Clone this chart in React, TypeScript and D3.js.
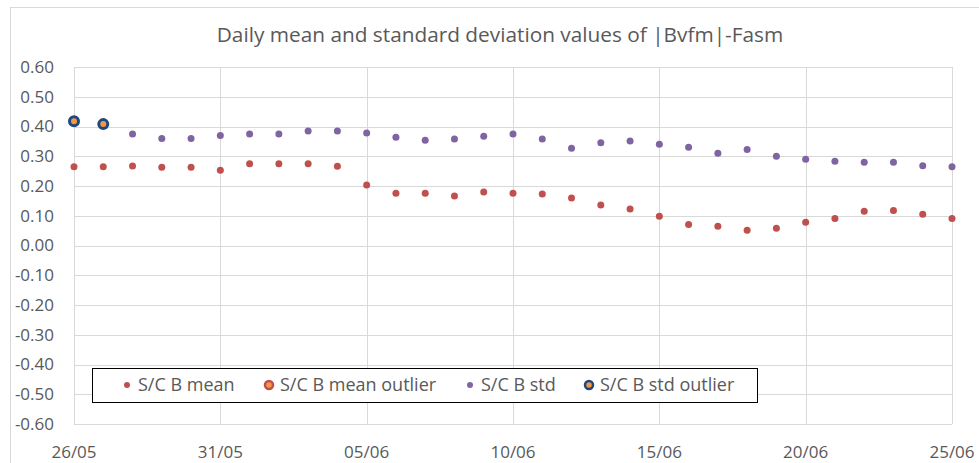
import React, { useEffect, useRef } from "react";
import * as d3 from "d3";

// days from 26/05 to 25/06
const days = [
  "26/05", "27/05", "28/05", "29/05", "30/05", "31/05", "01/06", "02/06",
  "03/06", "04/06", "05/06", "06/06", "07/06", "08/06", "09/06", "10/06",
  "11/06", "12/06", "13/06", "14/06", "15/06", "16/06", "17/06", "18/06",
  "19/06", "20/06", "21/06", "22/06", "23/06", "24/06", "25/06",
];
const meanValues = [
  0.265, 0.265, 0.267, 0.263, 0.263, 0.253, 0.275, 0.275, 0.275, 0.266,
  0.203, 0.176, 0.176, 0.166, 0.18, 0.176, 0.173, 0.16, 0.136, 0.123,
  0.098, 0.071, 0.065, 0.051, 0.058, 0.078, 0.091, 0.115, 0.118, 0.105,
  0.091,
];
const meanOutlier: (number | null)[] = days.map(() => null);
const stdValues = [
  null, null, 0.375, 0.36, 0.36, 0.37, 0.375, 0.375, 0.385, 0.385,
  0.378, 0.364, 0.354, 0.358, 0.367, 0.375, 0.358, 0.327, 0.345, 0.351,
  0.34, 0.33, 0.31, 0.323, 0.3, 0.29, 0.283, 0.28, 0.28, 0.268,
  0.265,
];
const stdOutlier = [0.418, 0.408];
const xTickLabels = ["26/05", "31/05", "05/06", "10/06", "15/06", "20/06", "25/06"];
const title = "Daily mean and standard deviation values of |Bvfm|-Fasm";
const legendLabels = ["S/C B mean", "S/C B mean outlier", "S/C B std", "S/C B std outlier"];

const W = 979,
  H = 463;
const font = "'Open Sans', sans-serif";
const textColor = "#595959";
const red = "#C0504D",
  purple = "#8064A2",
  orange = "#F79646",
  navy = "#1F497D";

export default function App() {
  const ref = useRef<SVGSVGElement>(null);

  useEffect(() => {
    const parse = d3.timeParse("%d/%m");
    const svg = d3.select(ref.current);
    svg.selectAll("*").remove();

    const x = d3
      .scaleTime()
      .domain([parse(days[0])!, parse(days[days.length - 1])!])
      .range([74, 952]);
    const y = d3.scaleLinear().domain([-0.6, 0.6]).range([424, 67]);

    // outer border
    svg
      .append("rect")
      .attr("x", 10.5)
      .attr("y", 7.5)
      .attr("width", W)
      .attr("height", H)
      .attr("fill", "white")
      .attr("stroke", "#D9D9D9");

    svg
      .append("text")
      .attr("x", 500)
      .attr("y", 42)
      .attr("text-anchor", "middle")
      .attr("font-family", font)
      .attr("font-size", 20.8)
      .attr("fill", textColor)
      .text(title);

    // grid
    const yTicks = y.ticks(12);
    svg
      .append("g")
      .selectAll("line")
      .data(yTicks)
      .join("line")
      .attr("x1", 74)
      .attr("x2", 952)
      .attr("y1", (d) => Math.round(y(d)) + 0.5)
      .attr("y2", (d) => Math.round(y(d)) + 0.5)
      .attr("stroke", "#D9D9D9");
    const xTicks = xTickLabels.map((s) => parse(s)!);
    svg
      .append("g")
      .selectAll("line")
      .data(xTicks)
      .join("line")
      .attr("x1", (d) => Math.round(x(d)) + 0.5)
      .attr("x2", (d) => Math.round(x(d)) + 0.5)
      .attr("y1", 67)
      .attr("y2", 424)
      .attr("stroke", "#D9D9D9");

    // axis labels
    svg
      .append("g")
      .selectAll("text")
      .data(yTicks)
      .join("text")
      .attr("x", 54)
      .attr("y", (d) => y(d))
      .attr("dy", "0.35em")
      .attr("text-anchor", "end")
      .attr("font-family", font)
      .attr("font-size", 17)
      .attr("fill", textColor)
      .text((d) => (Math.abs(d) < 1e-9 ? "0.00" : d.toFixed(2)));
    svg
      .append("g")
      .selectAll("text")
      .data(xTicks)
      .join("text")
      .attr("x", (d) => x(d))
      .attr("y", 458)
      .attr("text-anchor", "middle")
      .attr("font-family", font)
      .attr("font-size", 17)
      .attr("fill", textColor)
      .text((d, i) => xTickLabels[i]);

    // points
    const pts = (vals: (number | null)[]) =>
      days
        .map((d, i) => ({ date: parse(d)!, v: vals[i] }))
        .filter((p) => p.v !== null && p.v !== undefined) as { date: Date; v: number }[];

    svg
      .append("g")
      .selectAll("circle")
      .data(pts(meanValues))
      .join("circle")
      .attr("cx", (d) => x(d.date))
      .attr("cy", (d) => y(d.v))
      .attr("r", 3.5)
      .attr("fill", red);
    svg
      .append("g")
      .selectAll("circle")
      .data(pts(meanOutlier))
      .join("circle")
      .attr("cx", (d) => x(d.date))
      .attr("cy", (d) => y(d.v))
      .attr("r", 4.5)
      .attr("fill", orange)
      .attr("stroke", red)
      .attr("stroke-width", 3);
    svg
      .append("g")
      .selectAll("circle")
      .data(pts(stdValues))
      .join("circle")
      .attr("cx", (d) => x(d.date))
      .attr("cy", (d) => y(d.v))
      .attr("r", 3.5)
      .attr("fill", purple);
    svg
      .append("g")
      .selectAll("circle")
      .data(pts(stdOutlier))
      .join("circle")
      .attr("cx", (d) => x(d.date))
      .attr("cy", (d) => y(d.v))
      .attr("r", 4.5)
      .attr("fill", orange)
      .attr("stroke", navy)
      .attr("stroke-width", 3);

    // legend
    const lg = svg.append("g");
    lg.append("rect")
      .attr("x", 92.5)
      .attr("y", 368.5)
      .attr("width", 665)
      .attr("height", 34)
      .attr("fill", "white")
      .attr("stroke", "black");
    const items = [
      { x: 127, fill: red, stroke: "none", r: 3 },
      { x: 269, fill: orange, stroke: red, r: 4 },
      { x: 470, fill: purple, stroke: "none", r: 3 },
      { x: 589, fill: orange, stroke: navy, r: 4 },
    ];
    const li = lg
      .selectAll("g")
      .data(items)
      .join("g")
      .attr("transform", (d) => `translate(${d.x},385)`);
    li.append("circle")
      .attr("r", (d) => d.r)
      .attr("fill", (d) => d.fill)
      .attr("stroke", (d) => d.stroke)
      .attr("stroke-width", 2.5);
    li.append("text")
      .attr("x", 11)
      .attr("dy", "0.35em")
      .attr("font-family", font)
      .attr("font-size", 18)
      .attr("fill", textColor)
      .text((d, i) => legendLabels[i]);
  }, []);

  return (
    <svg
      ref={ref}
      width={W}
      height={H}
      style={{ position: "absolute", left: 0, top: 0, background: "white" }}
    />
  );
}
